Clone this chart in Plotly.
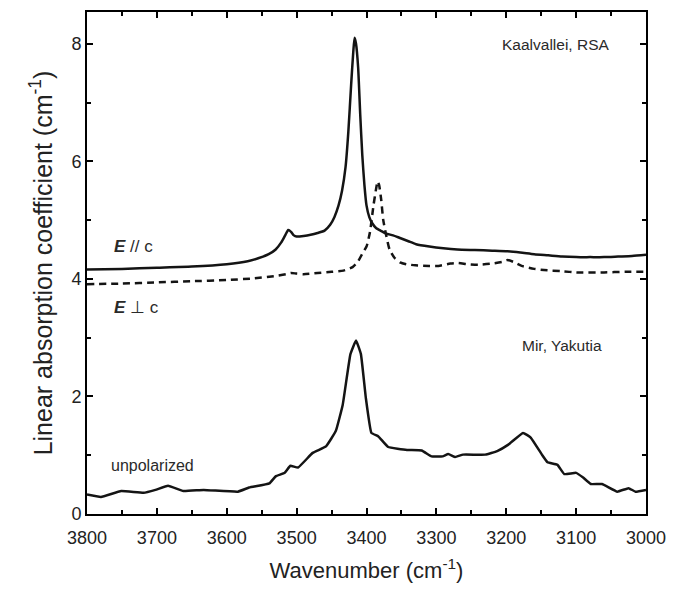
import plotly.graph_objects as go

# E // c (solid)
wn_par = [3800, 3750, 3700, 3650, 3600, 3570, 3555, 3540, 3530, 3522, 3516, 3512, 3508, 3504, 3500,
          3490, 3480, 3470, 3460, 3452, 3446, 3440, 3435, 3430, 3426, 3422, 3419, 3417, 3415, 3412,
          3409, 3406, 3403, 3400, 3396, 3392, 3386, 3380, 3372, 3362, 3353, 3340, 3329, 3310, 3290,
          3270, 3245, 3220, 3198, 3180, 3160, 3140, 3120, 3100, 3080, 3060, 3040, 3020, 3000]
a_par = [4.16, 4.17, 4.19, 4.21, 4.25, 4.30, 4.35, 4.42, 4.50, 4.62, 4.75, 4.83, 4.80, 4.74, 4.72,
         4.73, 4.75, 4.78, 4.82, 4.92, 5.05, 5.25, 5.50, 5.90, 6.50, 7.30, 7.85, 8.10, 8.00, 7.60,
         6.80, 6.10, 5.60, 5.25, 5.05, 4.95, 4.86, 4.82, 4.77, 4.74, 4.70, 4.64, 4.59, 4.55, 4.52,
         4.50, 4.49, 4.48, 4.47, 4.45, 4.42, 4.40, 4.38, 4.37, 4.37, 4.37, 4.38, 4.39, 4.41]

# E ⊥ c (dashed)
wn_perp = [3800, 3750, 3700, 3650, 3600, 3560, 3530, 3515, 3508, 3500, 3490, 3470, 3450, 3433, 3420,
           3412, 3405, 3400, 3395, 3390, 3386, 3384, 3382, 3379, 3376, 3372, 3367, 3360, 3352, 3343,
           3330, 3310, 3297, 3280, 3270, 3255, 3240, 3220, 3205, 3198, 3190, 3178, 3160, 3146, 3120,
           3100, 3060, 3030, 3000]
a_perp = [3.91, 3.92, 3.94, 3.96, 3.98, 4.01, 4.05, 4.08, 4.10, 4.09, 4.08, 4.10, 4.12, 4.14, 4.20,
          4.30, 4.45, 4.55, 4.80, 5.25, 5.55, 5.66, 5.60, 5.35, 5.00, 4.75, 4.50, 4.36, 4.28, 4.25,
          4.23, 4.22, 4.22, 4.26, 4.27, 4.25, 4.24, 4.26, 4.29, 4.32, 4.29, 4.22, 4.17, 4.15, 4.13,
          4.11, 4.11, 4.12, 4.12]

# unpolarized (Mir, Yakutia)
wn_unp = [3800, 3780, 3751, 3719, 3702, 3684, 3662, 3633, 3584, 3568, 3539, 3530, 3517, 3509, 3498,
          3477, 3458, 3444, 3434, 3423, 3415, 3408, 3401, 3393, 3383, 3369, 3342, 3321, 3307, 3291,
          3283, 3273, 3262, 3230, 3213, 3197, 3176, 3165, 3149, 3141, 3127, 3117, 3100, 3090, 3079,
          3063, 3041, 3025, 3015, 3000]
a_unp = [0.33, 0.29, 0.39, 0.36, 0.41, 0.48, 0.39, 0.41, 0.38, 0.45, 0.52, 0.64, 0.70, 0.82, 0.79,
         1.04, 1.15, 1.41, 1.86, 2.72, 2.95, 2.72, 1.98, 1.38, 1.32, 1.14, 1.09, 1.08, 0.98, 0.98,
         1.02, 0.97, 1.01, 1.01, 1.07, 1.18, 1.38, 1.30, 1.01, 0.88, 0.84, 0.68, 0.70, 0.62, 0.51,
         0.51, 0.38, 0.44, 0.38, 0.41]

x_ticks = [3800, 3700, 3600, 3500, 3400, 3300, 3200, 3100, 3000]
y_ticks = [0, 2, 4, 6, 8]

LC = "#141414"
FONT = "Liberation Sans, Arial, sans-serif"
fig = go.Figure()
fig.add_trace(go.Scatter(x=wn_par, y=a_par, mode="lines",
                         line=dict(color=LC, width=2.5, shape="spline", smoothing=0.6)))
fig.add_trace(go.Scatter(x=wn_perp, y=a_perp, mode="lines",
                         line=dict(color=LC, width=2.5, dash="7px,5px", shape="spline", smoothing=0.6)))
fig.add_trace(go.Scatter(x=wn_unp, y=a_unp, mode="lines",
                         line=dict(color=LC, width=2.5, shape="spline", smoothing=0.3)))

TXT = "#2a2a2a"
ann_font = dict(family=FONT, size=15.5, color=TXT)
anns = [
    dict(x=0.938, y=0.935, text="Kaalvallei, RSA", xanchor="right"),
    dict(x=0.924, y=0.335, text="Mir, Yakutia", xanchor="right"),
    dict(x=0.039, y=0.097, text="unpolarized", xanchor="left", font=dict(family=FONT, size=16, color=TXT)),
    dict(x=0.044, y=0.532, text="<b><i>E</i></b> // c", xanchor="left", font=dict(family=FONT, size=17, color=TXT)),
    dict(x=0.044, y=0.411, text="<b><i>E</i></b> ⊥ c", xanchor="left", font=dict(family=FONT, size=17, color=TXT)),
]
for a in anns:
    a.setdefault("font", ann_font)
    fig.add_annotation(xref="paper", yref="paper", yanchor="middle", showarrow=False, **a)

axis_common = dict(showline=True, linecolor="black", linewidth=2, mirror="allticks",
                   ticks="inside", tickcolor="black", tickwidth=1.5, ticklen=6,
                   showgrid=False, zeroline=False,
                   tickfont=dict(family=FONT, size=18, color="#222"))

fig.update_xaxes(range=[3800, 3000], tickvals=x_ticks, ticklabelstandoff=6,
                 minor=dict(dtick=50, ticks="inside", ticklen=4, tickwidth=1.5, tickcolor="black"),
                 title=dict(text="Wavenumber (cm<sup>-1</sup>)", standoff=16,
                            font=dict(family=FONT, size=22, color="#222")),
                 **axis_common)
fig.update_yaxes(range=[0, 8.54], tickvals=y_ticks,
                 minor=dict(dtick=1, ticks="inside", ticklen=4, tickwidth=1.5, tickcolor="black"),
                 title=dict(text="Linear absorption coefficient (cm<sup>-1</sup>)", standoff=12,
                            font=dict(family=FONT, size=25, color="#222")),
                 **axis_common)

fig.update_layout(width=676, height=590, showlegend=False,
                  margin=dict(l=87, r=23, t=10, b=76),
                  plot_bgcolor="white", paper_bgcolor="white")

fig.write_html("out.html")
